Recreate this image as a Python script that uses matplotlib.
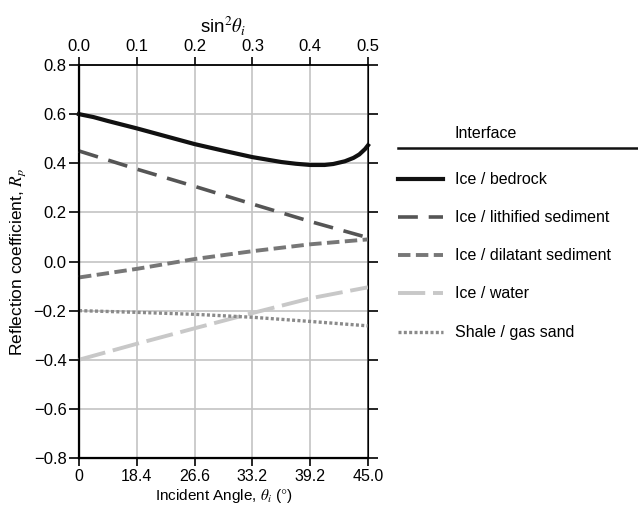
import matplotlib
matplotlib.use( 'Agg' )
import matplotlib.pyplot as plt
from matplotlib.lines import Line2D

plt.rcParams[ 'font.family' ] = [ 'Liberation Sans', 'DejaVu Sans' ]
plt.rcParams[ 'mathtext.fontset' ] = 'stix'

# sin^2(theta) sample positions
sin2 = [ 0.0, 0.025, 0.05, 0.1, 0.15, 0.2, 0.25, 0.3, 0.35, 0.375, 0.4, 0.425,
         0.44, 0.46, 0.475, 0.485, 0.495, 0.5 ]
bedrock = [ 0.600, 0.588, 0.572, 0.542, 0.510, 0.478, 0.451, 0.425, 0.405, 0.398,
            0.393, 0.393, 0.397, 0.408, 0.422, 0.436, 0.458, 0.473 ]

sin2_b = [ 0.0, 0.1, 0.2, 0.3, 0.4, 0.5 ]
lithified = [ 0.450, 0.376, 0.306, 0.234, 0.163, 0.097 ]
dilatant  = [ -0.065, -0.030, 0.010, 0.042, 0.070, 0.090 ]
water     = [ -0.400, -0.335, -0.272, -0.210, -0.150, -0.105 ]
shale     = [ -0.200, -0.207, -0.215, -0.227, -0.244, -0.262 ]

x_ticks       = [ 0.0, 0.1, 0.2, 0.3, 0.4, 0.5 ]
angle_labels  = [ '0', '18.4', '26.6', '33.2', '39.2', '45.0' ]
sin2_labels   = [ '0.0', '0.1', '0.2', '0.3', '0.4', '0.5' ]
y_ticks       = [ -0.8, -0.6, -0.4, -0.2, 0.0, 0.2, 0.4, 0.6, 0.8 ]

labels = [ 'Ice / bedrock', 'Ice / lithified sediment', 'Ice / dilatant sediment',
           'Ice / water', 'Shale / gas sand' ]
styles = [
    dict( color = '#111111', linewidth = 3.0, linestyle = '-' ),
    dict( color = '#555555', linewidth = 2.6, linestyle = ( 0, ( 5.5, 3.0 ) ) ),
    dict( color = '#777777', linewidth = 2.8, linestyle = ( 0, ( 3.2, 1.4 ) ) ),
    dict( color = '#c8c8c8', linewidth = 2.8, linestyle = ( 0, ( 7.0, 2.0 ) ) ),
    dict( color = '#8a8a8a', linewidth = 2.4, linestyle = ( 0, ( 0.9, 0.7 ) ) ),
]

fig = plt.figure( figsize = ( 6.38, 5.07 ), dpi = 100 )
ax = fig.add_axes( [ 79 / 638, 1 - 458 / 507, ( 368 - 79 ) / 638, ( 458 - 65 ) / 507 ] )

series = [ ( sin2, bedrock ), ( sin2_b, lithified ), ( sin2_b, dilatant ),
           ( sin2_b, water ), ( sin2_b, shale ) ]
for ( xs, ys ), st, lab in zip( series, styles, labels ):
    ax.plot( xs, ys, label = lab, zorder = 3, clip_on = False,
             solid_joinstyle = 'round', **st )

ax.set_xlim( 0, 0.5 )
ax.set_ylim( -0.8, 0.8 )
ax.set_xticks( x_ticks )
ax.set_xticklabels( angle_labels )
ax.set_yticks( y_ticks )
ax.set_yticklabels( [ f'{v:.1f}'.replace( '-', '\u2212' ) for v in y_ticks ] )
ax.grid( True, color = '#c4c4c4', linewidth = 1.2, zorder = 0 )
ax.set_axisbelow( True )

for side in [ 'left', 'bottom' ]:
    ax.spines[ side ].set_linewidth( 1.6 )
for side in [ 'right', 'top' ]:
    ax.spines[ side ].set_linewidth( 1.1 )
    ax.spines[ side ].set_color( '#333333' )

ax.tick_params( axis = 'both', direction = 'out', length = 6, width = 1.2,
                labelsize = 12, pad = 2 )
ax.tick_params( axis = 'y', right = True, length = 7 )
ax.tick_params( axis = 'x', labelsize = 11.5 )

ax.set_ylabel( 'Reflection coefficient, $R_p$', fontsize = 12.5, labelpad = 4 )
ax.set_xlabel( r'Incident Angle, $\theta_i$ ($\degree$)', fontsize = 11, labelpad = 2 )

# top axis: sin^2(theta)
top = ax.twiny()
top.set_xlim( ax.get_xlim() )
top.set_xticks( x_ticks )
top.set_xticklabels( sin2_labels )
top.tick_params( axis = 'x', direction = 'out', length = 6, width = 1.2,
                 labelsize = 12, pad = 2 )
top.spines[ 'top' ].set_linewidth( 1.1 )
top.set_xlabel( r'sin$^2\theta_i$', fontsize = 13.5, labelpad = 5 )

# legend, drawn in figure pixels
W, H = 638, 507
fig.text( 455 / W, 1 - 133 / H, 'Interface', fontsize = 11.5, va = 'center', ha = 'left' )
fig.add_artist( Line2D( [ 398 / W, 1.0 ], [ 1 - 148 / H, 1 - 148 / H ],
                        color = '#111111', linewidth = 1.8 ) )
ys_leg = [ 179, 217, 255, 293, 332 ]
for yy, st, lab in zip( ys_leg, styles, labels ):
    fig.add_artist( Line2D( [ 398 / W, 443 / W ], [ 1 - yy / H, 1 - yy / H ], **st ) )
    fig.text( 455 / W, 1 - yy / H, lab, fontsize = 11.5, va = 'center', ha = 'left' )

fig.savefig( 'out.png', dpi = 100 )
